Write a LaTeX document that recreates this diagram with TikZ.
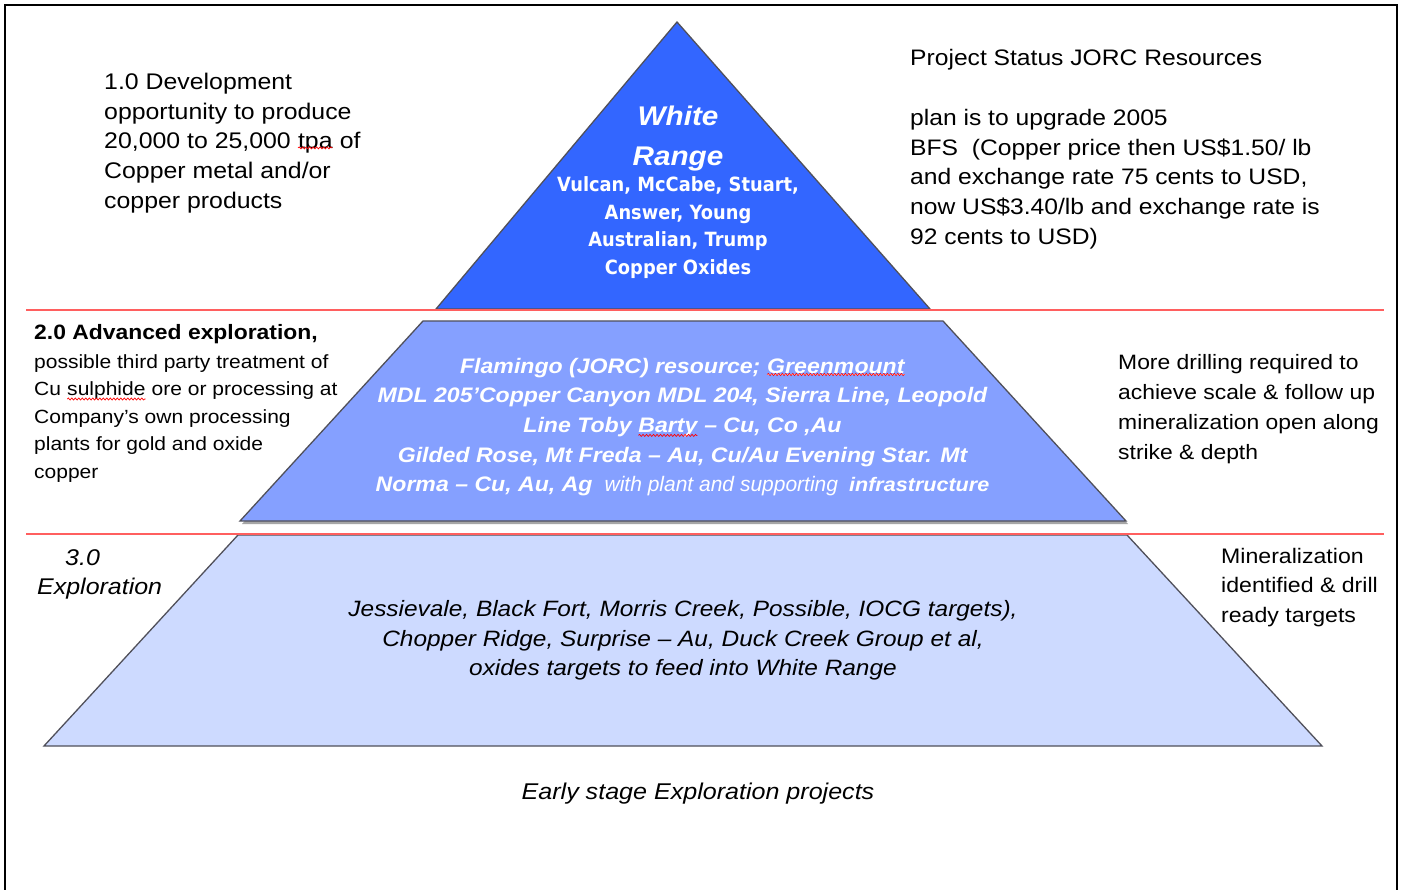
\documentclass[tikz,border=0pt]{standalone}
\usepackage{fontspec}
\setmainfont{Liberation Sans}[FakeStretch=1.1]
\newfontfamily\arlight{Liberation Sans}[FakeStretch=1.0]
\newfontfamily\dvb{DejaVu Sans}[FakeStretch=0.91]
\usetikzlibrary{decorations.pathmorphing}
\definecolor{topblue}{RGB}{51,102,255}
\definecolor{midblue}{RGB}{133,160,255}
\definecolor{lowblue}{RGB}{205,218,255}
\definecolor{redline}{RGB}{255,95,95}
\definecolor{edgegray}{RGB}{80,80,90}
\newcommand\spellmark[2][3pt]{\tikz[baseline=(spw.base)]{\node[inner sep=0pt,outer sep=0pt,anchor=base](spw){#2};\draw[wave]([yshift=-#1]spw.base west)--([yshift=-#1]spw.base east);}}
\begin{document}
\begin{tikzpicture}[x=1pt,y=-1pt,
  txt/.style={inner sep=0pt, anchor=base west, align=left},
  ctxt/.style={inner sep=0pt, anchor=base, align=center},
  sep/.style={draw=redline, line width=2pt},
  tier/.style={draw=edgegray, line width=1.3pt, line join=miter},
  wave/.style={draw=red, line width=0.7pt, decorate, decoration={snake, amplitude=1pt, segment length=3.5pt}}
]
\useasboundingbox (0,0) rectangle (1401,890);
\fill[white] (0,0) rectangle (1401,890);
\draw[line width=2pt] (5,895) -- (5,5) -- (1397,5) -- (1397,895);

% tiers
\path[tier, fill=topblue] (677,22) -- (930,309) -- (436,309) -- cycle;
\fill[gray!70] (425,324) -- (945,324) -- (1128,524) -- (242,524) -- cycle;
\path[tier, fill=midblue] (423,321) -- (943,321) -- (1126,521) -- (240,521) -- cycle;
\path[tier, fill=lowblue] (238,535) -- (1127,535) -- (1322,746) -- (44,746) -- cycle;

% separators
\coordinate (s1l) at (26,310.5); \coordinate (s1r) at (1384,310.5);
\coordinate (s2l) at (26,534); \coordinate (s2r) at (1384,534);
\draw[sep] (s1l) -- (s1r);
\draw[sep] (s2l) -- (s2r);

% left texts (anchor = baseline of the last line)
\node[txt, font=\fontsize{22.6}{29.7}\selectfont] (dev) at (104,208.3)
  {1.0 Development\\opportunity to produce\\20,000 to 25,000 \spellmark[-1pt]{tpa} of\\Copper metal and/or\\copper products};
\node[txt, font=\bfseries\fontsize{20.8}{29}\selectfont] (adv) at (34,339.3) {2.0 Advanced exploration,};
\node[txt, font=\fontsize{19.1}{27.5}\selectfont] (advd) at (34,478.5)
  {possible third party treatment of\\Cu \spellmark{sulphide} ore or processing at\\Company’s own processing\\plants for gold and oxide\\copper};
\node[txt, font=\itshape\fontsize{22.7}{29}\selectfont] (expl) at (37,594)
  {\hspace*{28pt}3.0\\Exploration};

% right texts
\node[txt, font=\fontsize{22.4}{29.8}\selectfont] (status) at (910,244.5)
  {Project Status JORC Resources\\[29.8pt]plan is to upgrade 2005\\BFS\ \ (Copper price then US\$1.50/ lb\\and exchange rate 75 cents to USD,\\now US\$3.40/lb and exchange rate is\\92 cents to USD)};
\node[txt, font=\fontsize{20.8}{30}\selectfont] (drill) at (1118,460)
  {More drilling required to\\achieve scale \& follow up\\mineralization open along\\strike \& depth};
\node[txt, font=\fontsize{21}{29.5}\selectfont] (mineral) at (1221,622)
  {Mineralization\\identified \& drill\\ready targets};

% pyramid texts
\node[ctxt, text=white, font=\bfseries\itshape\fontsize{27}{40}\selectfont] (wr) at (678,166) {White\\Range};
\node[ctxt, text=white, font=\dvb\bfseries\fontsize{19.6}{27.5}\selectfont] (wrp) at (678,274.2)
  {Vulcan, McCabe, Stuart,\\Answer, Young\\Australian, Trump\\Copper Oxides};
\node[ctxt, text=white, font=\bfseries\itshape\fontsize{21}{29.7}\selectfont] (mid) at (682.5,491.8)
  {Flamingo (JORC) resource; \spellmark[1.5pt]{\underline{Greenmount}}\\MDL 205’Copper Canyon MDL 204, Sierra Line, Leopold\\Line Toby \spellmark{Barty} – Cu, Co ,Au\\Gilded Rose, Mt Freda – Au, Cu/Au Evening Star. Mt\\Norma – Cu, Au, Ag\hspace{12pt}{\arlight\mdseries\itshape with plant and supporting}\hspace{11pt}{\fontsize{19.6}{29.7}\selectfont infrastructure}};
\node[ctxt, font=\itshape\fontsize{22.2}{29.7}\selectfont] (low) at (683,675.9)
  {Jessievale, Black Fort, Morris Creek, Possible, IOCG targets),\\Chopper Ridge, Surprise – Au, Duck Creek Group et al,\\oxides targets to feed into White Range};
\node[ctxt, font=\itshape\fontsize{22.8}{29}\selectfont] (early) at (698,799) {Early stage Exploration projects};
\end{tikzpicture}
\end{document}
